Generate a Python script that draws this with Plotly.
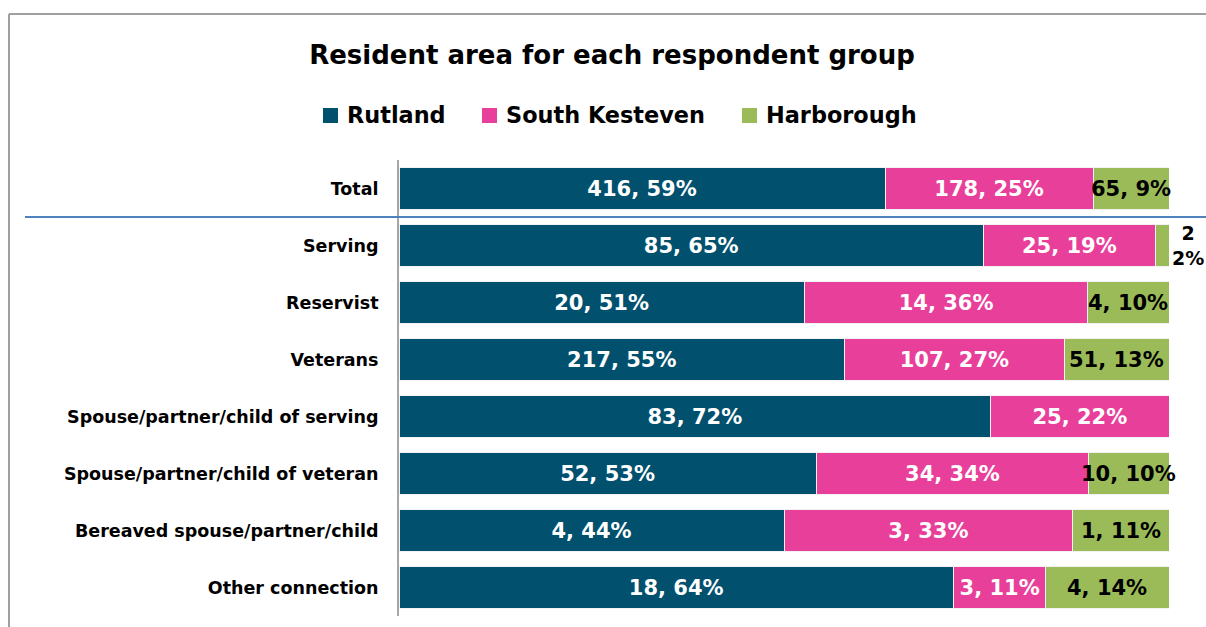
import plotly.graph_objects as go

# Respondent groups (top to bottom)
categories = [
    "Total",
    "Serving",
    "Reservist",
    "Veterans",
    "Spouse/partner/child of serving",
    "Spouse/partner/child of veteran",
    "Bereaved spouse/partner/child",
    "Other connection",
]

# Counts and percentages per resident area
rutland_n = [416, 85, 20, 217, 83, 52, 4, 18]
rutland_pct = [59, 65, 51, 55, 72, 53, 44, 64]
kesteven_n = [178, 25, 14, 107, 25, 34, 3, 3]
kesteven_pct = [25, 19, 36, 27, 22, 34, 33, 11]
harborough_n = [65, 2, 4, 51, 0, 10, 1, 4]
harborough_pct = [9, 2, 10, 13, 0, 10, 11, 14]

FONT = "DejaVu Sans"
COL_RUT = "#00506E"
COL_SK = "#E8409A"
COL_HAR = "#9BBB59"
LABEL_SIZE = 21


def labels(counts, pcts, sep=", "):
    return [f"{n}{sep}{p}%" if n else "" for n, p in zip(counts, pcts)]


series = [
    ("Rutland", rutland_n, labels(rutland_n, rutland_pct), COL_RUT),
    ("South Kesteven", kesteven_n, labels(kesteven_n, kesteven_pct), COL_SK),
    ("Harborough", harborough_n, None, COL_HAR),
]

fig = go.Figure()
for name, vals, txt, col in series:
    fig.add_trace(go.Bar(
        name=name,
        y=categories,
        x=vals,
        orientation="h",
        text=txt,
        textposition="inside",
        insidetextanchor="middle",
        textangle=0,
        constraintext="none",
        textfont=dict(family=FONT, size=LABEL_SIZE, color="white", weight="bold"),
        cliponaxis=False,
        marker=dict(color=col, line=dict(color="#F2F2F2", width=1)),
        showlegend=False,
        hoverinfo="skip",
    ))

# Harborough labels: centred on the (percent-normalised) segment, black text,
# allowed to spill past narrow segments; the tiniest one sits beside the bar end
for cat, r, s, h, p in zip(categories, rutland_n, kesteven_n, harborough_n, harborough_pct):
    if not h:
        continue
    total = r + s + h
    start = (r + s) / total * 100
    share = h / total * 100
    if share < 5:
        fig.add_annotation(x=100, y=cat, xref="x", yref="y", text=f"<b>{h}<br>{p}%</b>",
                           xanchor="center", yanchor="middle", xshift=19, showarrow=False,
                           font=dict(family=FONT, size=19, color="black"))
    else:
        fig.add_annotation(x=start + share / 2, y=cat, xref="x", yref="y",
                           text=f"<b>{h}, {p}%</b>", xanchor="center", yanchor="middle",
                           showarrow=False,
                           font=dict(family=FONT, size=LABEL_SIZE, color="black"))

# pixel geometry of the plotting area
plot_top, plot_h, plot_l, plot_w = 160, 456, 399, 770
def px_x(p):
    return (p - plot_l) / plot_w
def px_y(p):
    return (plot_top + plot_h - p) / plot_h

fig.update_layout(
    width=1206,
    height=627,
    barmode="stack",
    barnorm="percent",
    bargap=0.25,
    plot_bgcolor="white",
    paper_bgcolor="white",
    margin=dict(l=plot_l, r=1206 - plot_l - plot_w, t=plot_top, b=627 - plot_top - plot_h),
    title=dict(
        text="<b>Resident area for each respondent group</b>",
        font=dict(family=FONT, size=26, color="black"),
        x=612 / 1206, xanchor="center", xref="container",
        y=1 - 55 / 627, yanchor="middle", yref="container",
    ),
    showlegend=False,
)
fig.update_xaxes(range=[0, 100], visible=False, fixedrange=True)
fig.update_yaxes(
    autorange="reversed",
    showline=True, linecolor="#A6A6A6", linewidth=2,
    ticks="", showgrid=False,
    ticklabelstandoff=15,
    tickfont=dict(family=FONT, size=17.5, color="black", weight="bold"),
)

# key row above the bars: colour square followed by the area name
key_left = [323, 482, 742]
key_y = 115.5
for (name, _, _, col), left in zip(series, key_left):
    fig.add_shape(type="rect", xref="paper", yref="paper",
                  x0=px_x(left), x1=px_x(left + 15),
                  y0=px_y(key_y + 7.5), y1=px_y(key_y - 7.5),
                  fillcolor=col, line=dict(width=0))
    fig.add_annotation(xref="paper", yref="paper",
                       x=px_x(left + 22), y=px_y(key_y),
                       xanchor="left", yanchor="middle", showarrow=False,
                       text=f"<b>{name}</b>",
                       font=dict(family=FONT, size=22.4, color="black"))

# outer frame (left and top edges) and separator under the Total row
frame = dict(color="#A0A0A0", width=2)
fig.add_shape(type="line", xref="paper", yref="paper",
              x0=px_x(9), x1=px_x(1210), y0=px_y(14), y1=px_y(14), line=frame)
fig.add_shape(type="line", xref="paper", yref="paper",
              x0=px_x(9), x1=px_x(9), y0=px_y(14), y1=px_y(640), line=frame)
fig.add_shape(type="line", xref="paper", yref="y",
              x0=px_x(25), x1=px_x(1210), y0=0.5, y1=0.5,
              line=dict(color="#4F81BD", width=2))

fig.write_html("out.html")
